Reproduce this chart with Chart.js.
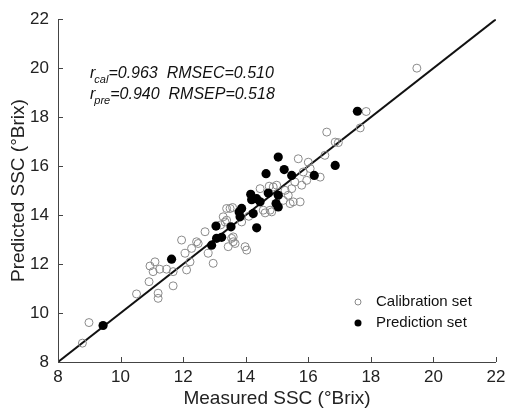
<!DOCTYPE html>
<html>
<head>
<meta charset="utf-8">
<script src="https://cdn.jsdelivr.net/npm/chart.js@4"></script>
<style>
html,body{margin:0;padding:0;background:#fff;}
#wrap{width:506px;height:410px;}
</style>
</head>
<body>
<div id="wrap"><canvas id="c" width="506" height="410"></canvas></div>
<script>
// ---- data ----
const xTicks = [8, 10, 12, 14, 16, 18, 20, 22];
const yTicks = [8, 10, 12, 14, 16, 18, 20, 22];
const calMeasured = [8.78,8.99,10.51,10.91,10.94,11.10,11.04,11.25,11.47,11.68,11.68,11.20,11.20,11.95,12.06,12.22,12.11,12.27,12.48,12.80,12.96,12.70,13.39,13.58,13.28,13.34,13.60,13.60,14.03,13.44,13.87,14.46,14.75,14.99,14.83,14.62,16.59,15.68,16.00,16.06,15.84,16.38,15.95,15.57,15.79,15.47,15.26,15.36,14.88,15.52,15.74,15.20,14.56,16.53,16.86,17.66,17.85,19.47,14.78,13.50,13.55,13.66,13.98,13.39,16.96,15.42,12.43,13.20,14.10];
const calPredicted = [8.77,9.61,10.78,11.28,11.92,12.09,11.69,11.79,11.79,11.69,11.11,10.81,10.60,12.98,12.44,12.09,11.76,12.64,12.84,12.44,12.03,13.32,14.27,14.31,13.93,13.72,13.11,12.91,12.57,12.71,13.72,15.08,15.18,15.22,14.13,14.09,17.39,16.30,16.16,15.90,15.76,15.55,15.42,15.35,15.22,15.08,15.01,14.81,15.15,14.54,14.54,14.60,14.20,16.44,16.98,17.56,18.23,20.00,14.20,14.27,13.05,12.84,12.71,13.79,16.96,14.47,12.91,13.60,13.95];
const preMeasured = [9.44,11.63,12.91,13.05,13.07,13.23,13.53,13.79,13.82,13.87,14.16,14.19,14.35,14.46,14.72,15.04,14.97,15.04,14.24,14.35,14.65,15.04,15.23,15.47,16.19,16.86,17.57];
const prePredicted = [9.49,12.20,12.77,13.55,13.05,13.09,13.52,14.13,13.93,14.27,14.85,14.63,14.67,14.54,14.90,14.81,14.47,14.33,14.06,13.48,15.69,16.37,15.86,15.62,15.62,16.03,18.24];
const oneToOne = [8, 22];
const seriesNames = ['Calibration set', 'Prediction set'];
const statsLines = [
  {r: 'cal', text: '=0.963  RMSEC=0.510'},
  {r: 'pre', text: '=0.940  RMSEP=0.518'}
];
const xTitle = 'Measured SSC (°Brix)';
const yTitle = 'Predicted SSC (°Brix)';

const FONT = '"Liberation Sans", Arial, sans-serif';
const toPts = (xs, ys) => xs.map((x, i) => ({x: x, y: ys[i]}));

// inward tick marks + only left/bottom axis lines, stats text and legend
const axesPlugin = {
  id: 'inwardTicks',
  afterDatasetsDraw(chart) {
    const ctx = chart.ctx, a = chart.chartArea;
    const xs = chart.scales.x, ys = chart.scales.y;
    ctx.save();
    ctx.strokeStyle = '#444';
    ctx.lineWidth = 1;
    ctx.beginPath();
    ctx.moveTo(a.left + 0.5, a.top);
    ctx.lineTo(a.left + 0.5, a.bottom + 0.5);
    ctx.lineTo(a.right, a.bottom + 0.5);
    xTicks.forEach(v => {
      const p = Math.round(xs.getPixelForValue(v)) + 0.5;
      ctx.moveTo(p, a.bottom);
      ctx.lineTo(p, a.bottom - 5);
    });
    yTicks.forEach(v => {
      const p = Math.round(ys.getPixelForValue(v)) + 0.5;
      ctx.moveTo(a.left, p);
      ctx.lineTo(a.left + 5, p);
    });
    ctx.stroke();
    ctx.restore();
  },
  afterDraw(chart) {
    const ctx = chart.ctx;
    ctx.save();
    ctx.fillStyle = '#111';
    ctx.textBaseline = 'alphabetic';
    const y0 = 78;
    statsLines.forEach((s, i) => {
      const y = y0 + i * 21;
      const x = 90;
      ctx.font = 'italic 16px ' + FONT;
      ctx.fillText('r', x, y);
      const rw = ctx.measureText('r').width;
      ctx.font = 'italic 11px ' + FONT;
      ctx.fillText(s.r, x + rw - 1, y + 5);
      const sw = ctx.measureText(s.r).width;
      ctx.font = 'italic 16px ' + FONT;
      ctx.fillText(s.text, x + rw + sw - 1, y);
    });
    const ds = chart.data.datasets;
    ctx.font = '15px ' + FONT;
    ctx.textBaseline = 'middle';
    [0, 1].forEach(i => {
      const ly = 302 + i * 21;
      ctx.beginPath();
      ctx.arc(358, ly, i === 0 ? 3 : 3.5, 0, Math.PI * 2);
      if (i === 0) { ctx.strokeStyle = ds[i].borderColor; ctx.lineWidth = 1; ctx.stroke(); }
      else { ctx.fillStyle = ds[i].backgroundColor; ctx.fill(); }
      ctx.fillStyle = '#111';
      ctx.fillText(seriesNames[i], 376, ly);
    });
    ctx.restore();
  }
};

new Chart(document.getElementById('c'), {
  type: 'scatter',
  data: {
    datasets: [
      {
        label: seriesNames[0],
        data: toPts(calMeasured, calPredicted),
        pointStyle: 'circle',
        pointRadius: 4,
        borderWidth: 1,
        borderColor: '#8a8a8a',
        backgroundColor: 'rgba(255,255,255,0)',
        order: 2
      },
      {
        label: seriesNames[1],
        data: toPts(preMeasured, prePredicted),
        pointStyle: 'circle',
        pointRadius: 4.6,
        borderWidth: 0,
        borderColor: '#000',
        backgroundColor: '#000',
        order: 1
      },
      {
        type: 'line',
        label: '1:1',
        data: toPts(oneToOne, oneToOne),
        borderColor: '#111',
        borderWidth: 2,
        pointRadius: 0,
        fill: false,
        order: 3
      }
    ]
  },
  options: {
    responsive: false,
    animation: false,
    devicePixelRatio: 1,
    layout: {padding: {top: 18, right: 10, left: 7, bottom: 0}},
    plugins: {legend: {display: false}, tooltip: {enabled: false}},
    scales: {
      x: {
        type: 'linear', min: 8, max: 22,
        afterBuildTicks: s => { s.ticks = xTicks.map(v => ({value: v})); },
        afterFit: s => { s.height = 48; s.paddingRight = 0; },
        grid: {display: false, drawTicks: false},
        border: {display: false},
        ticks: {color: '#222', font: {family: FONT, size: 17}, padding: 5, maxRotation: 0},
        title: {display: true, text: xTitle, color: '#222', font: {family: FONT, size: 19}, padding: {top: 0, bottom: 0}}
      },
      y: {
        type: 'linear', min: 8, max: 22,
        afterBuildTicks: s => { s.ticks = yTicks.map(v => ({value: v})); },
        afterFit: s => { s.width = 51; },
        grid: {display: false, drawTicks: false},
        border: {display: false},
        ticks: {color: '#222', font: {family: FONT, size: 17}, padding: 9},
        title: {display: true, text: yTitle, color: '#222', font: {family: FONT, size: 19}, padding: {top: 0, bottom: 0}}
      }
    }
  },
  plugins: [axesPlugin]
});
</script>
</body>
</html>
